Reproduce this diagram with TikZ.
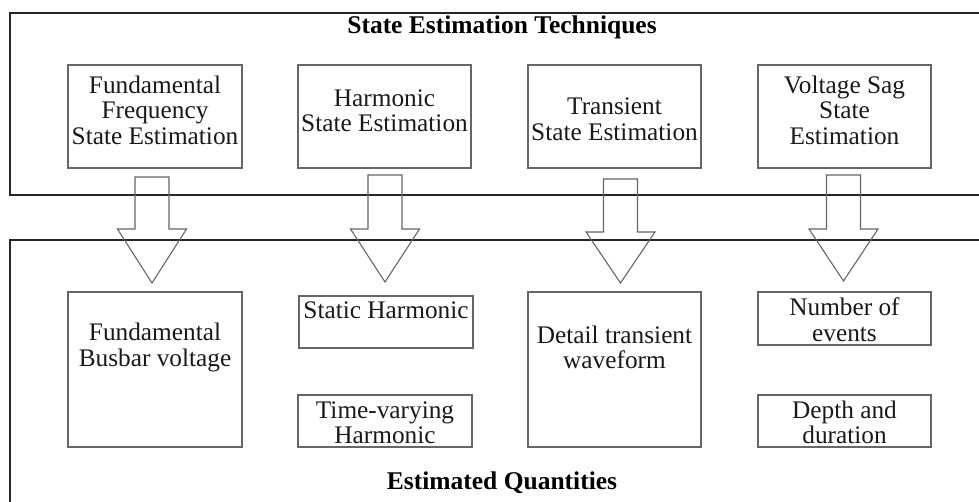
\documentclass[tikz,border=0pt]{standalone}
\usepackage{fontspec}
\setmainfont{Liberation Serif}
\begin{document}
\begin{tikzpicture}[x=1pt,y=-1pt,
 box/.style={draw=black!60, line width=1.1pt, inner sep=0pt},
 lbl/.style={align=center, font=\fontsize{25.3}{25.5}\selectfont, text=black!90, inner sep=0pt},
 ttl/.style={font=\fontsize{25.5}{26}\selectfont\bfseries, text=black, inner sep=0pt},
 outer/.style={draw=black!85, line width=2pt},
 barrow/.style={draw=black!60, line width=1.1pt, line join=miter}]
\useasboundingbox (0,0) rectangle (979,501);
\clip (0,0) rectangle (979,501);
\newcommand\blockarr[4]{\draw[barrow] (#1-17,#2) -- (#1+17,#2) -- (#1+17,#3) -- (#1+34.5,#3) -- (#1,#4) -- (#1-34.5,#3) -- (#1-17,#3) -- cycle;}
% outer frames
\draw[outer] (995,13) -- (10,13) -- (10,195) -- (995,195);
\draw[outer] (995,240) -- (10,240) -- (10,520);
% titles
\node[ttl] (tt) at (502,27) {State Estimation Techniques};
\node[ttl] (bt) at (502,483) {Estimated Quantities};
% top boxes
\node[box, minimum width=174pt, minimum height=103pt] (t1) at (155,116.5) {};
\node[box, minimum width=173pt, minimum height=103pt] (t2) at (384.5,116.5) {};
\node[box, minimum width=173pt, minimum height=103pt] (t3) at (614.5,116.5) {};
\node[box, minimum width=173pt, minimum height=103pt] (t4) at (844.5,116.5) {};
\node[lbl] (t1l) at (155,110) {Fundamental\\Frequency\\State Estimation};
\node[lbl] (t2l) at (384.5,110.5) {Harmonic\\State Estimation};
\node[lbl] (t3l) at (614.5,119) {Transient\\State Estimation};
\node[lbl] (t4l) at (844.5,110) {Voltage Sag\\State\\Estimation};
% block arrows
\blockarr{152}{177}{229}{283}
\blockarr{385}{175}{229}{282}
\blockarr{620.5}{179}{232}{283}
\blockarr{843.5}{175}{229}{281}
% bottom boxes
\node[box, minimum width=174pt, minimum height=155pt] (b1) at (155,369.5) {};
\node[box, minimum width=174pt, minimum height=52pt] (b2a) at (386,322) {};
\node[box, minimum width=174pt, minimum height=52pt] (b2b) at (385,421) {};
\node[box, minimum width=173pt, minimum height=155pt] (b3) at (614.5,369.5) {};
\node[box, minimum width=173pt, minimum height=53pt] (b4a) at (844.5,318.5) {};
\node[box, minimum width=173pt, minimum height=52pt] (b4b) at (844.5,421) {};
\node[lbl] (b1l) at (155,347.5) {Fundamental\\Busbar voltage};
\node[lbl] (b2al) at (386,310) {Static Harmonic};
\node[lbl] (b2bl) at (385,422.5) {Time-varying\\Harmonic};
\node[lbl] (b3l) at (614.5,347.5) {Detail transient\\waveform};
\node[lbl] (b4al) at (844.5,319.5) {Number of\\events};
\node[lbl] (b4bl) at (844.5,422.5) {Depth and\\duration};
\end{tikzpicture}
\end{document}
